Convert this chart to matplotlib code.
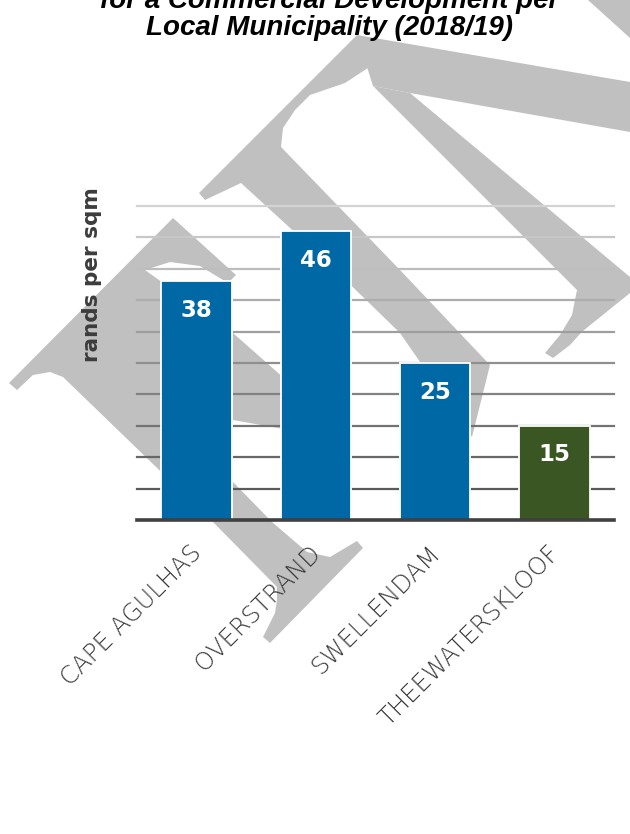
import matplotlib
matplotlib.use("Agg")
import matplotlib.pyplot as plt
import matplotlib.transforms as mtransforms
from matplotlib.patches import Polygon
import numpy as np

# data
municipalities = ["CAPE AGULHAS", "OVERSTRAND", "SWELLENDAM", "THEEWATERSKLOOF"]
rands_per_sqm = [38, 46, 25, 15]
bar_colors = ["#0068a4", "#0068a4", "#0068a4", "#3a5623"]
grid_ticks = [5, 10, 15, 20, 25, 30, 35, 40, 45, 50]

title_lines = ["for a Commercial Development per", "Local Municipality (2018/19)"]
y_label = "rands per sqm"

W, H = 630, 834

# grey watermark behind the chart (outline points in pixels, y measured from the top)
watermark_shapes = [
    [(9, 383), (173, 218), (236, 275), (228, 283), (200, 266), (170, 262), (145, 270),
     (233, 333), (320, 410), (300, 432), (233, 420), (205, 440), (233, 482), (272, 522),
     (213, 522), (63, 377), (50, 372), (33, 375), (17, 390)],
    [(213, 522), (277, 587), (277, 600), (275, 613), (263, 637), (270, 643), (363, 548),
     (357, 541), (330, 557), (307, 552), (272, 522)],
    [(199, 193), (357, 35), (380, 60), (345, 83), (310, 95), (295, 110), (283, 128),
     (281, 147), (286, 165), (241, 183), (205, 200)],
    [(357, 35), (630, 82), (630, 132), (410, 93), (373, 86)],
    [(373, 86), (410, 93), (630, 277), (630, 293), (568, 343), (560, 336), (590, 306),
     (577, 290)],
    [(577, 290), (592, 305), (588, 325), (570, 345), (553, 358), (545, 353), (560, 335),
     (572, 315)],
    [(241, 183), (281, 147), (400, 270), (490, 365), (472, 437), (400, 333), (325, 260)],
    [(588, 0), (630, 0), (630, 38)],
]

fig = plt.figure(figsize=(W / 100, H / 100), dpi=100)
fig.patch.set_facecolor("white")

for shape in watermark_shapes:
    pts = [(x / W, 1 - y / H) for x, y in shape]
    fig.patches.append(Polygon(pts, closed=True, transform=fig.transFigure,
                               facecolor="#c0c0c0", edgecolor="none", zorder=0))

ax = fig.add_axes([137 / W, (H - 520) / H, (614 - 137) / W, (520 - 206) / H])
ax.set_facecolor("none")
ax.set_zorder(2)

# gridlines get darker towards the bottom
grid_colors = plt.cm.Greys(np.linspace(0.72, 0.28, len(grid_ticks)))
for t, c in zip(grid_ticks, grid_colors):
    ax.axhline(t, color=c, lw=1.6, zorder=1, clip_on=False)
ax.axhline(0, color="#404040", lw=2.6, zorder=4, clip_on=False)

x = np.arange(len(municipalities))
bars = ax.bar(x, rands_per_sqm, width=0.59, color=bar_colors,
              edgecolor="white", linewidth=1.3, zorder=3)

for b, v in zip(bars, rands_per_sqm):
    ax.annotate(str(v), (b.get_x() + b.get_width() / 2, v), xytext=(0, -21),
                textcoords="offset points", ha="center", va="center",
                color="white", fontsize=16.5, fontweight="bold", zorder=5)

ax.set_xlim(-0.5, 3.5)
ax.set_ylim(0, 50)
for s in ax.spines.values():
    s.set_visible(False)
ax.set_yticks([])
ax.set_xticks(x)
ax.set_xticklabels(municipalities, rotation=45, ha="right", rotation_mode="anchor",
                   fontsize=17.5, color="#3a3a3a", fontweight="light")
ax.tick_params(axis="x", length=0, pad=15)
shift = mtransforms.ScaledTranslation(-7 / 100, 0, fig.dpi_scale_trans)
for lbl in ax.get_xticklabels():
    lbl.set_transform(lbl.get_transform() + shift)

fig.text(92 / W, 1 - 275 / H, y_label, rotation=90, ha="center", va="center",
         fontsize=15.5, fontweight="bold", color="#3c3c3c")

fig.text(330 / W, 1 - 8 / H, title_lines[0], ha="center", va="baseline",
         fontsize=20, fontweight="bold", fontstyle="italic",
         family="Liberation Sans", color="black")
fig.text(330 / W, 1 - 35 / H, title_lines[1], ha="center", va="baseline",
         fontsize=20, fontweight="bold", fontstyle="italic",
         family="Liberation Sans", color="black")

fig.savefig("out.png", dpi=100, facecolor="white")
